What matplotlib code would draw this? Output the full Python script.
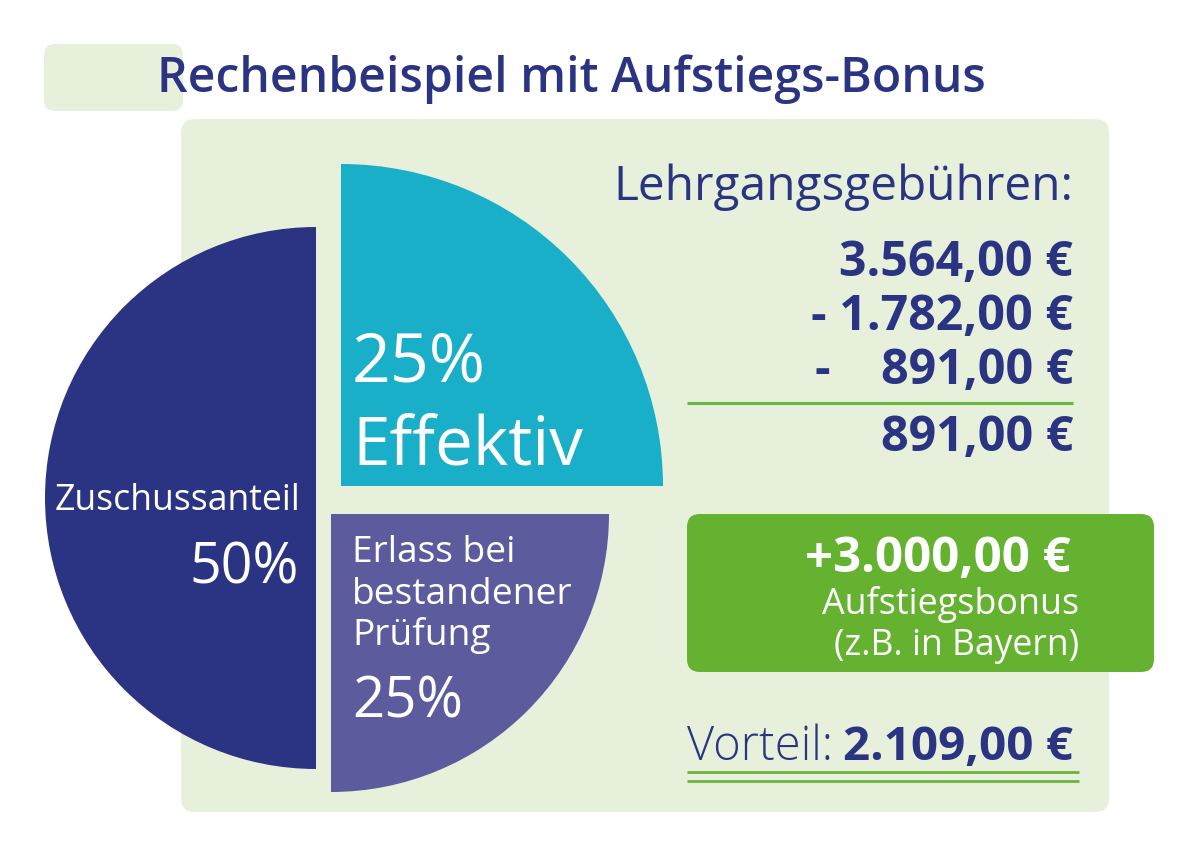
import numpy as np
import matplotlib
matplotlib.use("Agg")
import matplotlib.pyplot as plt
from matplotlib.patches import Wedge, FancyBboxPatch

plt.rcParams['font.family'] = ['Open Sans', 'DejaVu Sans']

# data
shares = [50, 25, 25]
share_names = ["Zuschussanteil", "Effektiv", ["Erlass bei", "bestandener", "Prüfung"]]
fee_total = "3.564,00 €"
fee_minus = ["1.782,00 €", "891,00 €"]
fee_result = "891,00 €"
bonus = "+3.000,00 €"
advantage = "2.109,00 €"

NAVY = "#2B3482"
CYAN = "#1AAFC8"
PURPLE = "#5B5B9D"
PANEL = "#E6F0DA"
GREEN = "#64B22F"
LINE = "#6DB33F"

fig = plt.figure(figsize=(12, 8.56), dpi=100)
ax = fig.add_axes([0, 0, 1, 1])
ax.set_xlim(0, 1200)
ax.set_ylim(856, 0)
ax.axis("off")

# background boxes
ax.add_patch(FancyBboxPatch((44, 44), 139, 67, boxstyle="round,pad=0,rounding_size=11",
                            fc=PANEL, ec="none"))
ax.add_patch(FancyBboxPatch((181, 119), 928, 693, boxstyle="round,pad=0,rounding_size=14",
                            fc=PANEL, ec="none"))
ax.add_patch(FancyBboxPatch((687, 514), 467, 158, boxstyle="round,pad=0,rounding_size=13",
                            fc=GREEN, ec="none"))

ax.text(157, 92, "Rechenbeispiel mit Aufstiegs-Bonus", fontsize=34.7, fontweight="semibold",
        color=NAVY, va="baseline")

# exploded pie, each slice with its own centre and radius
centres = [(316, 498), (341, 486), (331, 514)]
radii = [271, 322, 278]
colors = [NAVY, CYAN, PURPLE]
start = 90
for s, c, r, col in zip(shares, centres, radii, colors):
    end = start + 360 * s / sum(shares)
    ax.add_patch(Wedge(c, r, start, end, fc=col, ec="none"))
    start = end

ax.text(300, 510, share_names[0], fontsize=25.7, color="white", ha="right", va="baseline")
ax.text(299, 583, f"{shares[0]}%", fontsize=40, color="white", ha="right", va="baseline")
ax.text(352, 381, f"{shares[1]}%", fontsize=49, color="white", va="baseline")
ax.text(352, 464, share_names[1], fontsize=48.6, color="white", va="baseline")
for line, yb in zip(share_names[2], [562, 604, 644.5]):
    ax.text(352, yb, line, fontsize=26.7, color="white", va="baseline")
ax.text(352, 718, f"{shares[2]}%", fontsize=40.5, color="white", va="baseline")

# fee calculation
amt = dict(fontsize=34.8, fontweight="bold", color=NAVY, va="baseline")
ax.text(1073, 200, "Lehrgangsgebühren:", fontsize=34.4, color=NAVY, ha="right", va="baseline")
ax.text(1073, 276, fee_total, ha="right", **amt)
ax.text(1073, 330, "- " + fee_minus[0], ha="right", **amt)
ax.text(814, 384, "-", **amt)
ax.text(1073, 384, fee_minus[1], ha="right", **amt)
ax.plot([687, 1073], [402.5, 402.5], color=LINE, lw=2.2, solid_capstyle="butt")
ax.text(1073, 451, fee_result, ha="right", **amt)

# bonus box
ax.text(1071, 572, bonus, fontsize=35.4, fontweight="bold", color="white",
        ha="right", va="baseline")
ax.text(1079, 614, "Aufstiegsbonus", fontsize=25.8, color="white", ha="right", va="baseline")
ax.text(1079, 655, "(z.B. in Bayern)", fontsize=25.6, color="white", ha="right", va="baseline")

# advantage
ax.text(1073, 760, advantage, fontsize=34.2, fontweight="bold", color=NAVY,
        ha="right", va="baseline")
ax.text(687, 760, "Vorteil:", fontsize=33.8, fontweight="light", color=NAVY, va="baseline")
ax.plot([687, 1079], [772, 772], color=LINE, lw=2, solid_capstyle="butt")
ax.plot([687, 1079], [780.5, 780.5], color=LINE, lw=2, solid_capstyle="butt")

fig.savefig("out.png", dpi=100, facecolor="white")
